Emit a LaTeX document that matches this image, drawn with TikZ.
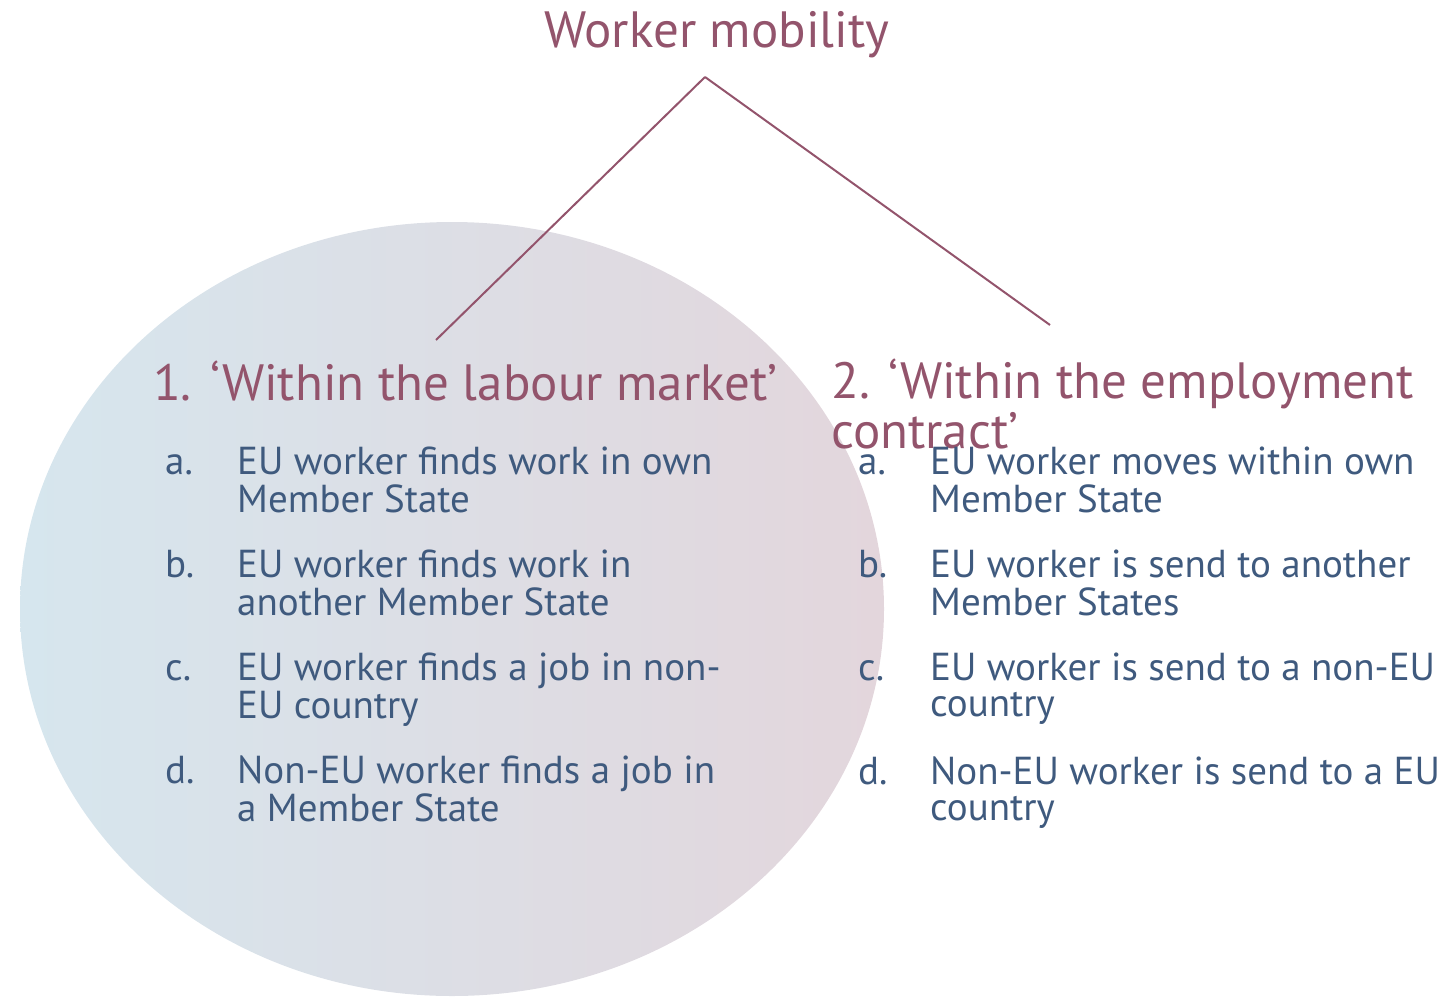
\documentclass[tikz,border=0pt]{standalone}
\usepackage{fontspec}
\setmainfont{PT Sans}
\definecolor{mauve}{HTML}{93546C}
\definecolor{itemblue}{HTML}{3F5A7E}
\definecolor{ellL}{HTML}{D6E6EE}
\definecolor{ellR}{HTML}{E3D6DC}
\newcommand{\twolines}[2]{\begin{tabular}[t]{@{}l@{}}#1\\#2\end{tabular}}
\begin{document}
\begin{tikzpicture}[x=1pt,y=-1pt,
  title/.style={font=\fontsize{51}{56}\selectfont, text=mauve, inner sep=0pt},
  head/.style={font=\fontsize{51}{47}\selectfont, text=mauve, inner sep=0pt, anchor=base west},
  lbl/.style={font=\fontsize{39}{36}\selectfont, text=itemblue, inner sep=0pt, anchor=base west},
  itm/.style={font=\fontsize{39}{36}\selectfont, text=itemblue, inner sep=0pt, anchor=base west},
  conn/.style={draw=mauve, line width=2pt}]
\useasboundingbox (0,0) rectangle (1450,996);
\shade[left color=ellL, right color=ellR] (452,609) ellipse [x radius=432, y radius=387];
\node[title, anchor=base] (t) at (717,47) {Worker mobility};
\coordinate (apex) at (705,77);
\coordinate (e1) at (436,340);
\coordinate (e2) at (1050,325);
\draw[conn] (apex) -- (e1);
\draw[conn] (apex) -- (e2);
\node[head] (h1) at (153,400) {1. ‘Within the labour market’};
\node[head] (h2) at (831,398) {\twolines{2. ‘Within the employment}{contract’}};
% left items
\node[lbl] (la) at (165,474) {a.};
\node[itm] (ta) at (237,474) {\twolines{EU worker finds work in own}{Member State}};
\node[lbl] (lb) at (165,577) {b.};
\node[itm] (tb) at (237,577) {\twolines{EU worker finds work in}{another Member State}};
\node[lbl] (lc) at (165,680) {c.};
\node[itm] (tc) at (237,680) {\twolines{EU worker finds a job in non-}{EU country}};
\node[lbl] (ld) at (165,783) {d.};
\node[itm] (td) at (237,783) {\twolines{Non-EU worker finds a job in}{a Member State}};
% right items
\node[lbl] (ra) at (858,474) {a.};
\node[itm] (sa) at (930,474) {\twolines{EU worker moves within own}{Member State}};
\node[lbl] (rb) at (858,577) {b.};
\node[itm] (sb) at (930,577) {\twolines{EU worker is send to another}{Member States}};
\node[lbl] (rc) at (858,680) {c.};
\node[itm] (sc) at (930,680) {\twolines{EU worker is send to a non-EU}{country}};
\node[lbl] (rd) at (858,784) {d.};
\node[itm] (sd) at (930,784) {\twolines{Non-EU worker is send to a EU}{country}};
\end{tikzpicture}
\end{document}
